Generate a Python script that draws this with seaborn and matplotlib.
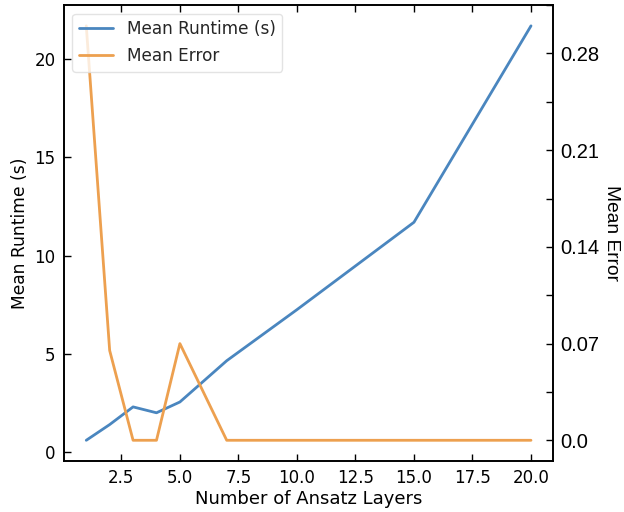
import matplotlib
matplotlib.use("Agg")
import matplotlib.pyplot as plt
import seaborn as sns
import pandas as pd
from matplotlib.ticker import MultipleLocator

layers = [1, 2, 3, 4, 5, 7, 10, 15, 20]
runtime = [0.6, 1.4, 2.3, 2.0, 2.55, 4.65, 7.25, 11.7, 21.7]
error = [0.300, 0.065, 0.0, 0.0, 0.070, 0.0, 0.0, 0.0, 0.0]
err_ticks = [0.0, 0.07, 0.14, 0.21, 0.28]
err_tick_labels = ["0.0", "0.07", "0.14", "0.21", "0.28"]

df = pd.DataFrame({"layers": layers, "runtime": runtime, "error": error})

sns.set_theme(style="white")
plt.rcParams["font.family"] = ["DejaVu Sans"]

blue = "#4a86bf"
orange = "#eda04f"

fig = plt.figure(figsize=(6.24, 5.12), dpi=100)
ax = fig.add_axes([0.1026, 0.0996, 0.7840, 0.8904])
ax2 = ax.twinx()

sns.lineplot(data=df, x="layers", y="runtime", ax=ax, color=blue, linewidth=2, label="Mean Runtime (s)", legend=False)
sns.lineplot(data=df, x="layers", y="error", ax=ax2, color=orange, linewidth=2, label="Mean Error", legend=False)

for a in (ax, ax2):
    for s in a.spines.values():
        s.set_color("black")
        s.set_linewidth(1.2)

ax.set_xlabel("Number of Ansatz Layers", fontsize=13, color="black", labelpad=2)
ax.set_ylabel("Mean Runtime (s)", fontsize=12.3, color="black")
ax.xaxis.set_major_locator(MultipleLocator(2.5))
ax.yaxis.set_major_locator(MultipleLocator(5))
ax.tick_params(axis="x", direction="in", top=True, bottom=True, length=5, width=1, labelsize=12, colors="black", pad=6)
ax.tick_params(axis="y", direction="in", left=True, right=False, length=5, width=1, labelsize=12, colors="black", pad=6)

ax2.set_yticks(err_ticks)
ax2.set_yticklabels(err_tick_labels, fontfamily="Liberation Sans")
ax2.yaxis.set_minor_locator(MultipleLocator(0.035))
ax2.tick_params(axis="y", which="both", direction="in", right=True, length=5, width=1, labelsize=14.5, colors="black", pad=5)
ax2.set_ylabel("Mean Error", rotation=270, fontsize=13.8, fontfamily="Liberation Sans", labelpad=15, color="black")

h1, l1 = ax.get_legend_handles_labels()
h2, l2 = ax2.get_legend_handles_labels()
leg = ax2.legend(h1 + h2, l1 + l2, loc="upper left", fontsize=12.2, frameon=True, framealpha=0.8)
leg.get_frame().set_edgecolor("#dddddd")

fig.savefig("out.png", dpi=100)
